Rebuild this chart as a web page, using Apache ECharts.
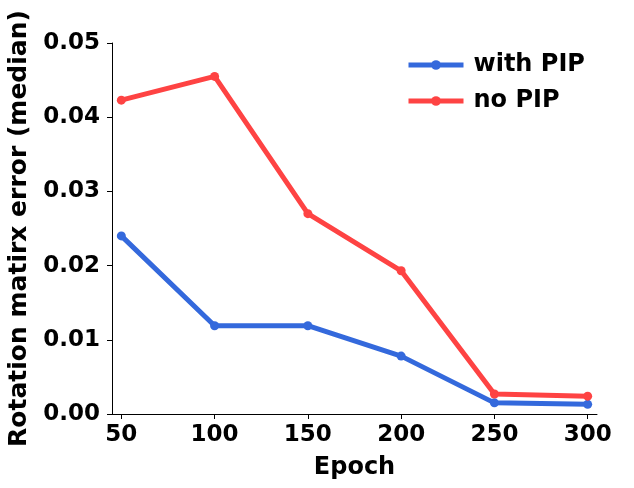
<!DOCTYPE html>
<html>
<head>
<meta charset="utf-8">
<script src="https://cdn.jsdelivr.net/npm/echarts@6/dist/echarts.min.js"></script>
<style>
  html, body { margin: 0; padding: 0; background: #fff; }
  #chart { width: 634px; height: 488px; }
</style>
</head>
<body>
<div id="chart"></div>
<script>
// data
const epochs = [50, 100, 150, 200, 250, 300]
const withPip = [0.0240, 0.0119, 0.0119, 0.0078, 0.0015, 0.0013]
const noPip = [0.0423, 0.0455, 0.0270, 0.0193, 0.0027, 0.0024]
const xTicks = [50, 100, 150, 200, 250, 300]

const font = 'DejaVu Sans'
const blue = '#3469dc'
const red = '#fe4343'

const chart = echarts.init(document.getElementById('chart'))

const lineSeries = (name, values, color) => ({
    name: name,
    type: 'line',
    data: epochs.map((e, i) => [e, values[i]]),
    symbol: 'circle',
    symbolSize: 9,
    lineStyle: { color: color, width: 5 },
    itemStyle: { color: color },
    animation: false
})

const option = {
    backgroundColor: '#fff',
    grid: { left: 112, right: 37, top: 43, bottom: 74, outerBoundsMode: 'none', containLabel: false },
    legend: {
        orient: 'vertical',
        left: 406,
        top: 53,
        padding: 0,
        itemWidth: 55,
        itemHeight: 12,
        itemGap: 12,
        lineStyle: { width: 5 },
        textStyle: { fontFamily: font, fontWeight: 'bold', fontSize: 24, color: '#000', padding: [0, 0, 0, 5] },
        data: ['with PIP', 'no PIP']
    },
    xAxis: {
        type: 'value',
        min: 45,
        max: 305,
        name: 'Epoch',
        nameLocation: 'middle',
        nameGap: 42,
        nameTextStyle: { fontFamily: font, fontWeight: 'bold', fontSize: 24, color: '#000' },
        axisLine: { show: true, lineStyle: { color: '#000', width: 1 } },
        axisTick: { show: true, length: 5, lineStyle: { color: '#000' }, customValues: xTicks },
        axisLabel: { fontFamily: font, fontWeight: 'bold', fontSize: 23, color: '#000', margin: 10, customValues: xTicks },
        splitLine: { show: false }
    },
    yAxis: {
        type: 'value',
        min: 0,
        max: 0.05,
        interval: 0.01,
        name: 'Rotation matirx error (median)',
        nameLocation: 'middle',
        nameGap: 80,
        nameTextStyle: { fontFamily: font, fontWeight: 'bold', fontSize: 25, color: '#000' },
        axisLine: { show: true, lineStyle: { color: '#000', width: 1 } },
        axisTick: { show: true, length: 5, lineStyle: { color: '#000' } },
        axisLabel: {
            fontFamily: font, fontWeight: 'bold', fontSize: 23, color: '#000', margin: 12,
            formatter: v => v.toFixed(2)
        },
        splitLine: { show: false }
    },
    series: [
        lineSeries('with PIP', withPip, blue),
        lineSeries('no PIP', noPip, red)
    ]
}

chart.setOption(option)
</script>
</body>
</html>
